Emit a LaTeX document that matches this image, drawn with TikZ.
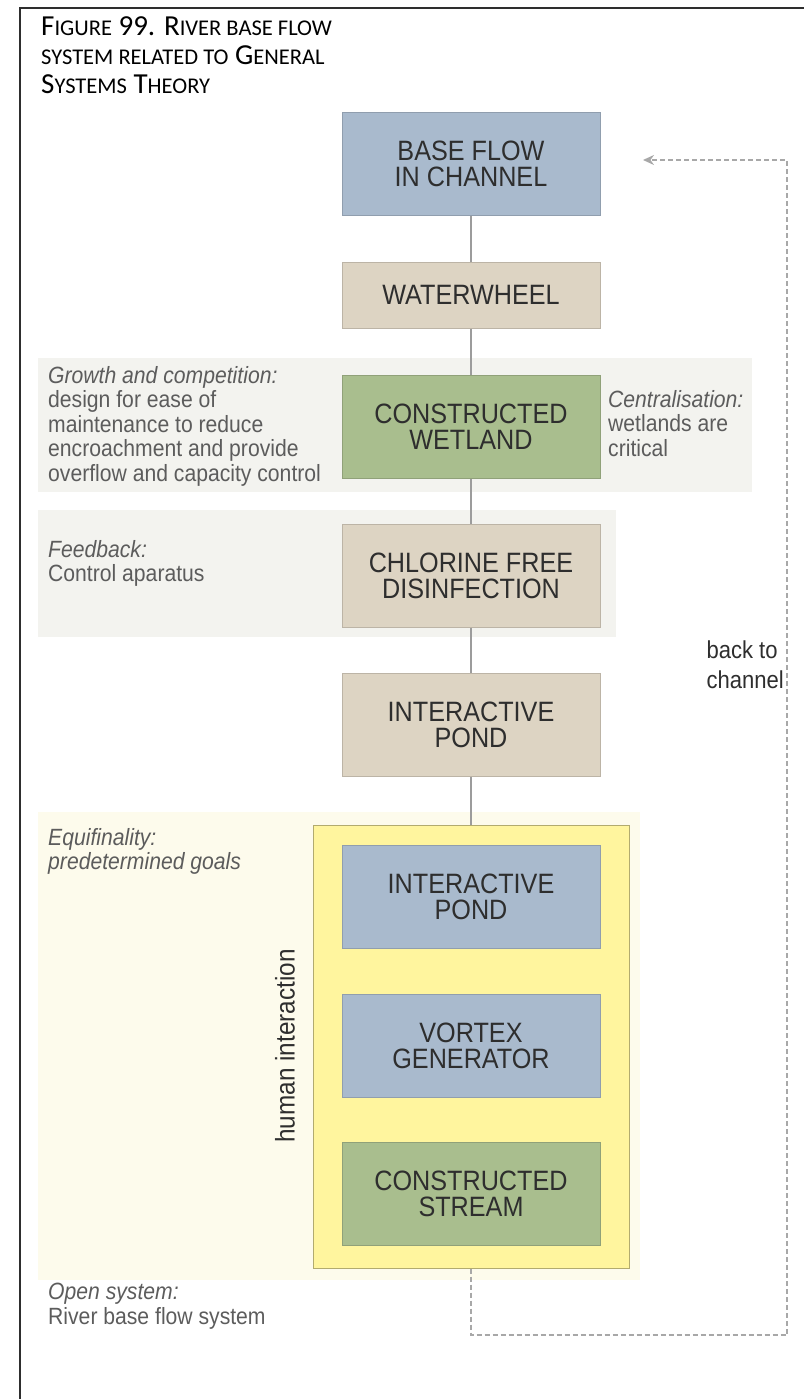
\documentclass[tikz,border=0pt]{standalone}
\usepackage{fontspec}
\setmainfont{Liberation Sans}[FakeStretch=0.9]
\newfontfamily\titlefont{Carlito}
\usetikzlibrary{shapes, arrows, arrows.meta, positioning}

\definecolor{waterblue}{HTML}{A9BACD}
\definecolor{sandtan}{HTML}{DDD4C3}
\definecolor{reedgreen}{HTML}{A9BE8E}
\definecolor{bandgrey}{HTML}{F3F3EF}
\definecolor{bandcream}{HTML}{FDFBEC}
\definecolor{pondyellow}{HTML}{FFF59E}
\definecolor{linegrey}{HTML}{9C9C9C}
\definecolor{dashgrey}{HTML}{A8A8A8}
\definecolor{notegrey}{HTML}{5C5C5C}
\definecolor{inkgrey}{HTML}{2E2E2E}

% fake small capitals for the caption
\newcommand{\smc}[1]{{\fontsize{22.5}{29}\selectfont #1}}

\tikzset{
	unitbox/.style={minimum width=258pt, minimum height=103pt, inner sep=0pt, align=center,
		line width=1pt, text=inkgrey, font=\fontsize{28}{26}\selectfont},
	bluebox/.style={unitbox, fill=waterblue, draw=waterblue!85!black},
	tanbox/.style={unitbox, fill=sandtan, draw=sandtan!85!black},
	greenbox/.style={unitbox, fill=reedgreen, draw=reedgreen!85!black},
	band/.style={fill=bandgrey},
	note/.style={anchor=north west, align=left, inner sep=0pt, text=notegrey,
		font=\fontsize{23.5}{24.5}\selectfont},
	link/.style={draw=linegrey, line width=2pt},
	feedback/.style={draw=dashgrey, line width=2.5pt, dash pattern=on 5pt off 3pt}
}

\begin{document}
\begin{tikzpicture}[x=1pt, y=-1pt]
	\useasboundingbox (0,0) rectangle (804,1399);
	%Frame
		\draw[inkgrey, line width=2pt] (20,1399) -- (20,8) -- (804,8);
	%Caption
		\node[anchor=north west, align=left, inner sep=0pt, text=black,
			font=\titlefont\fontsize{29}{29}\selectfont] (caption) at (41,16)
			{F\smc{IGURE} 99. R\smc{IVER BASE FLOW}\\
			 \smc{SYSTEM RELATED TO} G\smc{ENERAL}\\
			 S\smc{YSTEMS} T\smc{HEORY}};
	%Background bands
		\fill[band] (38,358) rectangle (752,492);
		\fill[band] (38,510) rectangle (616,637);
		\fill[bandcream] (38,812) rectangle (640,1280);
	%Main chain
		\node[bluebox, minimum height=102pt] (baseflow) at (471,164) {BASE FLOW\\IN CHANNEL};
		\node[tanbox, minimum height=66pt] (waterwheel) at (471,295) {WATERWHEEL};
		\node[greenbox] (wetland) at (471,426.5) {CONSTRUCTED\\WETLAND};
		\node[tanbox] (chlorine) at (471,575.5) {CHLORINE FREE\\DISINFECTION};
		\node[tanbox] (pond) at (471,724.5) {INTERACTIVE\\POND};
	%Human interaction
		\node[fill=pondyellow, draw=pondyellow!70!black, line width=1pt,
			minimum width=316pt, minimum height=443pt] (interaction) at (471,1046.5) {};
		\node[bluebox] (innerpond) at (471,896.5) {INTERACTIVE\\POND};
		\node[bluebox] (vortex) at (471,1046) {VORTEX\\GENERATOR};
		\node[greenbox] (stream) at (471,1194) {CONSTRUCTED\\STREAM};
		\node[rotate=90, text=inkgrey, font=\fontsize{27}{27}\selectfont] (human) at (285,1046) {human interaction};
	%Links
		\draw[link] (baseflow) -- (waterwheel);
		\draw[link] (waterwheel) -- (wetland);
		\draw[link] (wetland) -- (chlorine);
		\draw[link] (chlorine) -- (pond);
		\draw[link] (pond) -- (interaction);
	%Notes
		\node[note] (growth) at (48,366) {\textit{Growth and competition:}\\design for ease of\\maintenance to reduce\\encroachment and provide\\overflow and capacity control};
		\node[note] (central) at (608,390) {\textit{Centralisation:}\\wetlands are\\critical};
		\node[note] (feedback) at (48,540) {\textit{Feedback:}\\Control aparatus};
		\node[note] (equifinal) at (48,828) {\textit{Equifinality:}\\\textit{predetermined goals}};
		\node[note] (opensys) at (48,1283) {\textit{Open system:}\\River base flow system};
	%Back to channel
		\coordinate (lowleft) at (471,1335);
		\coordinate (lowright) at (787,1335);
		\coordinate (topright) at (787,160);
		\coordinate (backtip) at (643,160);
		\draw[feedback, -{Stealth[length=11pt, width=10pt]}] (interaction.south) -- (lowleft) -- (lowright) -- (topright) -- (backtip);
		\node[anchor=east, align=left, inner sep=0pt, text=inkgrey,
			font=\fontsize{24.5}{30}\selectfont] (backlabel) at (784,665) {back to\\channel};
\end{tikzpicture}
\end{document}
